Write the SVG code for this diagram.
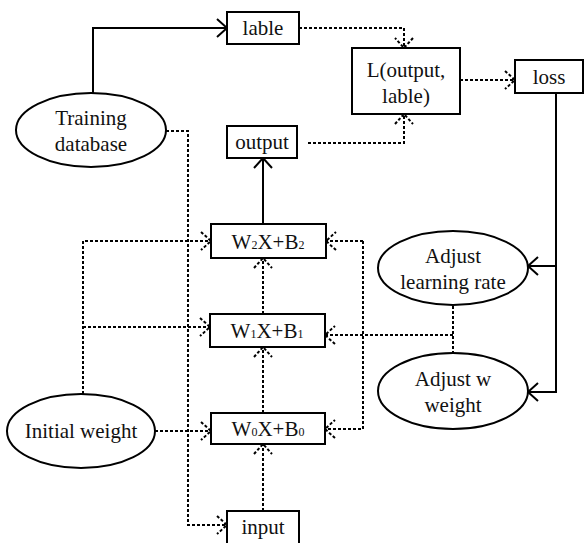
<svg xmlns="http://www.w3.org/2000/svg" width="585" height="543" viewBox="0 0 585 543" font-family="Liberation Serif, Times New Roman, serif" font-size="21">
<style>
.box{fill:#fff;stroke:#000;stroke-width:2}
text{fill:#111;text-anchor:middle}
.sub{font-size:12px}
.s{fill:none;stroke:#000;stroke-width:2}
.d{fill:none;stroke:#000;stroke-width:2;stroke-dasharray:3,2}
</style>
<defs>
<marker id="as" markerUnits="userSpaceOnUse" markerWidth="24" markerHeight="24" viewBox="-12 -12 24 24" refX="0" refY="0" orient="auto">
<path d="M-10,-9 L0,0 L-10,9" fill="none" stroke="#000" stroke-width="2"/>
</marker>
<marker id="ad" markerUnits="userSpaceOnUse" markerWidth="24" markerHeight="24" viewBox="-12 -12 24 24" refX="0" refY="0" orient="auto">
<path d="M-10,-9 L0,0 L-10,9" fill="none" stroke="#000" stroke-width="2" stroke-dasharray="3,2"/>
</marker>
</defs>
<g id="connectors">
<path class="s" d="M93,93 V28 H227" marker-end="url(#as)"/>
<path class="d" d="M299,28 H404 V48" marker-end="url(#ad)"/>
<path class="d" d="M308,143 H404 V114" marker-end="url(#ad)"/>
<path class="d" d="M460,80 H515" marker-end="url(#ad)"/>
<path class="s" d="M263,224 V158" marker-end="url(#as)"/>
<path class="d" d="M166,131 H188 V525 H227" marker-end="url(#ad)"/>
<path class="d" d="M83,394 V241 H211" marker-end="url(#ad)"/>
<path class="d" d="M83,327 H210" marker-end="url(#ad)"/>
<path class="d" d="M155,431 H211" marker-end="url(#ad)"/>
<path class="d" d="M263,314 V258" marker-end="url(#ad)"/>
<path class="d" d="M263,413 V347" marker-end="url(#ad)"/>
<path class="d" d="M263,511 V444" marker-end="url(#ad)"/>
<path class="d" d="M363,241 H326" marker-end="url(#ad)"/>
<path class="d" d="M363,241 V429 H325" marker-end="url(#ad)"/>
<path class="d" d="M453,306 V353"/>
<path class="d" d="M453,335 H325" marker-end="url(#ad)"/>
<path class="s" d="M556,93 V266 H528" marker-end="url(#as)"/>
<path class="s" d="M556,266 V392 H528" marker-end="url(#as)"/>
</g>
<g id="lable"><rect class="box" x="227" y="12" width="72" height="32"/><text x="263" y="35">lable</text></g>
<g id="training"><ellipse class="box" cx="91" cy="130" rx="75" ry="37"/><text x="91" y="125">Training</text><text x="91" y="151">database</text></g>
<g id="L"><rect class="box" x="352" y="48" width="108" height="66"/><text x="406" y="77">L(output,</text><text x="406" y="103">lable)</text></g>
<g id="loss"><rect class="box" x="515" y="60" width="68" height="33"/><text x="549" y="84">loss</text></g>
<g id="output"><rect class="box" x="227" y="126" width="70" height="32"/><text x="262" y="149">output</text></g>
<g id="w2"><rect class="box" x="211" y="224" width="115" height="34"/><text x="268" y="249">W<tspan class="sub">2</tspan>X+B<tspan class="sub">2</tspan></text></g>
<g id="w1"><rect class="box" x="210" y="314" width="115" height="33"/><text x="267" y="338">W<tspan class="sub">1</tspan>X+B<tspan class="sub">1</tspan></text></g>
<g id="w0"><rect class="box" x="211" y="413" width="114" height="31"/><text x="268" y="436">W<tspan class="sub">0</tspan>X+B<tspan class="sub">0</tspan></text></g>
<g id="input"><rect class="box" x="227" y="511" width="72" height="34"/><text x="263" y="534">input</text></g>
<g id="initial"><ellipse class="box" cx="81" cy="431" rx="74" ry="37"/><text x="81" y="438">Initial weight</text></g>
<g id="alr"><ellipse class="box" cx="453" cy="268" rx="75" ry="37"/><text x="453" y="263">Adjust</text><text x="453" y="289">learning rate</text></g>
<g id="aww"><ellipse class="box" cx="453" cy="391" rx="75" ry="38"/><text x="453" y="386">Adjust w</text><text x="453" y="412">weight</text></g>
</svg>
